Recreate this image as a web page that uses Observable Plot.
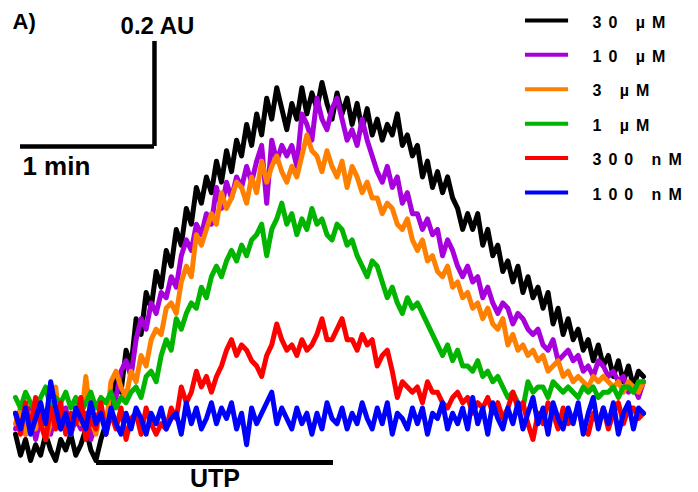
<!DOCTYPE html>
<html>
<head>
<meta charset="utf-8">
<script src="https://cdn.jsdelivr.net/npm/d3@7"></script>
<script src="https://cdn.jsdelivr.net/npm/@observablehq/plot@0.6"></script>
<style>
  html, body { margin: 0; padding: 0; background: #fff; }
  #chart { width: 698px; height: 492px; }
</style>
</head>
<body>
<div id="chart"></div>
<script>
// Traces: response in units of 0.01 AU, sampled every 2.25 s
const sampleInterval = 2.25;

const black30uM = [
  -3, -7, -4, -8, -5, -7, -3, -6, -8, -4,
  -6, -3, -7, -5, -2, -6, -8, -4, -1, 3,
  8, 5, 13, 10, 19, 16, 24, 21, 28, 25,
  32, 29, 36, 33, 40, 37, 44, 41, 46, 43,
  49, 45, 51, 47, 53, 50, 56, 52, 58, 54,
  61, 57, 63, 59, 55, 60, 57, 63, 58, 62,
  59, 64, 60, 57, 62, 58, 61, 56, 60, 55,
  59, 54, 57, 53, 56, 54, 58, 52, 54, 50,
  52, 46, 49, 44, 47, 43, 46, 42, 40, 36,
  39, 36, 39, 33, 36, 31, 33, 28, 30, 26,
  29, 24, 27, 23, 25, 21, 24, 18, 21, 16,
  19, 15, 17, 13, 15, 11, 14, 10, 12, 8,
  11, 7, 10, 6, 9, 8
];
const purple10uM = [
  -2, 1, -3, 2, -4, 0, -1, -3, 1, -2,
  2, -3, 0, -2, 1, -4, -1, 2, -2, 1,
  4, 9, 11, 8, 15, 19, 17, 22, 20, 24,
  23, 27, 25, 31, 34, 32, 37, 35, 39, 37,
  44, 40, 45, 42, 46, 44, 48, 45, 49, 52,
  41, 53, 49, 52, 50, 52, 48, 58, 56, 53,
  61, 57, 55, 59, 61, 57, 53, 55, 52, 57,
  53, 50, 47, 45, 48, 44, 46, 41, 43, 39,
  39, 36, 38, 35, 36, 31, 34, 32, 29, 27,
  29, 26, 27, 23, 25, 22, 20, 22, 21, 18,
  20, 19, 17, 16, 17, 14, 13, 15, 11, 12,
  13, 11, 12, 9, 10, 8, 11, 10, 8, 9,
  7, 8, 5, 6, 4, 7
];
const orange3uM = [
  -1, 2, -3, 1, -2, 3, -4, -1, 6, -2,
  1, -3, 2, -1, 8, 0, -3, 2, -2, 7,
  9, 6, 4, 9, 7, 12, 10, 15, 17, 16,
  21, 22, 20, 26, 29, 27, 35, 33, 36, 39,
  37, 43, 40, 42, 45, 44, 41, 46, 43, 49,
  45, 48, 50, 47, 45, 48, 46, 50, 54, 51,
  50, 47, 51, 48, 46, 49, 44, 48, 46, 43,
  45, 42, 42, 39, 41, 40, 37, 36, 38, 34,
  32, 34, 30, 31, 28, 27, 29, 25, 26, 23,
  24, 21, 22, 19, 21, 18, 17, 19, 14, 16,
  13, 14, 12, 13, 11, 12, 9, 10, 11, 8,
  9, 7, 8, 7, 6, 8, 7, 8, 7, 6,
  7, 5, 7, 6, 5, 7
];
const green1uM = [
  4, 2, 5, 3, 1, 4, 6, 2, 4, 3,
  5, 2, 4, 1, 3, 5, 2, 4, 3, 5,
  2, 4, 3, 5, 6, 4, 8, 9, 7, 12,
  15, 13, 19, 17, 20, 22, 21, 25, 23, 27,
  29, 27, 30, 32, 30, 33, 31, 34, 35, 37,
  31, 36, 38, 41, 37, 39, 35, 38, 36, 40,
  37, 38, 35, 34, 37, 36, 33, 34, 31, 29,
  27, 30, 29, 26, 23, 25, 22, 20, 23, 21,
  22, 20, 18, 16, 14, 12, 14, 11, 13, 10,
  10, 9, 11, 8, 9, 7, 8, 6, 4, 5,
  3, 2, 7, 5, 6, 6, 4, 7, 6, 5,
  6, 5, 4, 6, 5, 6, 4, 5, 5, 6,
  4, 6, 6, 5, 7, 7
];
const red300nM = [
  1, -3, 3, -2, 4, -1, -4, 2, -2, 3,
  -3, 1, -1, 4, -4, 0, -2, 3, -3, 1,
  -2, 2, -4, 0, 1, -3, 2, -1, -3, -1,
  -2, 2, 0, 6, 3, 5, 9, 6, 8, 5,
  8, 10, 13, 15, 12, 14, 13, 11, 10, 8,
  12, 14, 18, 15, 13, 14, 12, 15, 13, 14,
  16, 19, 15, 15, 17, 19, 15, 15, 13, 16,
  14, 15, 10, 12, 13, 9, 4, 7, 6, 5,
  6, 3, 7, 5, 5, 3, 2, 4, 5, 3,
  4, 1, 3, 2, 4, 1, 3, 0, 2, 5,
  2, 3, -1, -4, 1, -1, 3, 1, -2, 2,
  -1, 0, 2, -2, -3, 1, -1, 2, -2, 1,
  3, -1, 2, 2, 0, 1
];
const blue100nM = [
  1, -2, 2, -3, 0, 3, -1, 7, 2, -2,
  1, -3, 2, 0, -2, 3, -1, 1, -3, 2,
  -1, -3, 1, -2, 2, 0, -3, 1, -1, 2,
  -2, 0, 1, -3, 3, -1, 2, -2, 0, 3,
  -1, 2, 0, 3, -2, 1, -5, 2, -1, 1,
  3, 5, -1, 2, 0, -2, 2, -1, 1, -3,
  1, -2, 3, 0, -1, 2, -2, 1, -1, 3,
  0, -2, 2, -1, 3, -3, 1, 0, -2, 2,
  -1, 2, -3, 1, 0, 3, -2, 1, -1, 2,
  -2, 4, -1, 2, -3, 3, 0, -2, 2, -1,
  3, -2, 1, 4, -1, 2, -3, 3, 0, -2,
  2, -1, 3, -3, 1, 4, -2, 2, -1, 3,
  -3, 1, 3, -2, 2, 1
];

const seriesNames = ["30 µM", "10 µM", "3 µM", "1 µM", "300 nM", "100 nM"];
const seriesColors = ["#000000", "#a800dc", "#ff8000", "#00b400", "#ff0000", "#0000ff"];
const seriesValues = [black30uM, purple10uM, orange3uM, green1uM, red300nM, blue100nM];

// Scale bars / annotations (time in s, response in 0.01 AU)
const timeBar = [2.24, 62.24];          // 1 min
const auBarY = [51.8, 71.8];            // 0.2 AU
const utpPeriod = [36.3, 142.4];        // UTP application
const utpBarY = -8.4;

const series = seriesNames.map((name, k) => ({
  name, color: seriesColors[k],
  rows: seriesValues[k].map((v, i) => ({ t: i * sampleInterval, v }))
}));

const legendTop = 75.8, legendStep = 6.55;
const legendRows = series.map((s, k) => ({ label: s.name, color: s.color, y: legendTop - k * legendStep }));

const font = "'Liberation Sans', Arial, sans-serif";

const chart = Plot.plot({
  width: 698,
  height: 492,
  marginLeft: 15,
  marginRight: 55,
  marginTop: 0,
  marginBottom: 0,
  x: { domain: [0, 281.25], axis: null },
  y: { domain: [-14.1, 79.6], axis: null },
  color: { type: "identity" },
  style: { fontFamily: font, background: "white", color: "black" },
  marks: [
    ...series.map(s => Plot.line(s.rows, {
      x: "t", y: "v", stroke: s.color, strokeWidth: 5,
      strokeLinejoin: "round", strokeLinecap: "round"
    })),
    // scale bars
    Plot.ruleY([auBarY[0]], { x1: timeBar[0], x2: timeBar[1], stroke: "black", strokeWidth: 4.5 }),
    Plot.ruleX([timeBar[1]], { y1: auBarY[0], y2: auBarY[1], stroke: "black", strokeWidth: 4.5 }),
    Plot.ruleY([utpBarY], { x1: utpPeriod[0], x2: utpPeriod[1], stroke: "black", strokeWidth: 5 }),
    Plot.text(["0.2 AU"], { x: 63.6, y: 74.6, text: d => d, fontSize: 24, fontWeight: "bold", fill: "black" }),
    Plot.text(["1 min"], { x: 3.1, y: 48.0, text: d => d, textAnchor: "start", fontSize: 26, fontWeight: "bold", fill: "black" }),
    Plot.text(["UTP"], { x: (utpPeriod[0] + utpPeriod[1]) / 2, y: -11.5, text: d => d, fontSize: 25, fontWeight: "bold", fill: "black" }),
    Plot.text(["A)"], { x: -1.3, y: 75.6, text: d => d, textAnchor: "start", fontSize: 22, fontWeight: "bold", fill: "black" }),
    // legend
    Plot.ruleY(legendRows, { y: "y", x1: 228.4, x2: 247.7, stroke: "color", strokeWidth: 4 }),
    Plot.text(legendRows, { x: 258.4, y: "y", dy: 2, text: "label", textAnchor: "start", fontSize: 16, fontWeight: "bold", fill: "black" })
  ]
});

d3.select(chart).selectAll("text")
  .filter(function () { return seriesNames.includes(this.textContent); })
  .attr("letter-spacing", 7);

document.getElementById("chart").appendChild(chart);
</script>
</body>
</html>
